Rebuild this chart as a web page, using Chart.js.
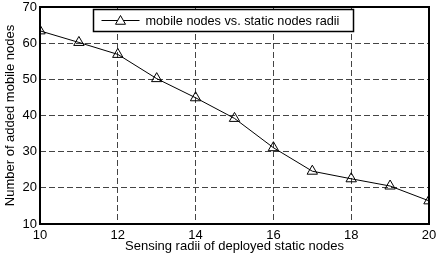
<!DOCTYPE html>
<html>
<head>
<meta charset="utf-8">
<script src="https://cdn.jsdelivr.net/npm/chart.js@4"></script>
<style>
  html, body { margin: 0; padding: 0; background: #fff; }
  #wrap { width: 438px; height: 254px; }
</style>
</head>
<body>
<div id="wrap"><canvas id="myChart" width="438" height="254"></canvas></div>
<script>
// data
const radii = [10, 11, 12, 13, 14, 15, 16, 17, 18, 19, 20];
const mobileNodes = [63.4, 60.2, 56.9, 50.2, 44.9, 39.2, 31.1, 24.6, 22.5, 20.5, 16.4];
const seriesLabel = 'mobile nodes vs. static nodes radii';
const xTicks = [10, 12, 14, 16, 18, 20];
const yTicks = [10, 20, 30, 40, 50, 60, 70];

const FONT = 'Liberation Sans, Arial, sans-serif';

// box around the plot + the legend inside it
const framePlugin = {
    id: 'frame',
    afterDraw(chart) {
        const c = chart.ctx;
        const a = chart.chartArea;
        c.save();
        c.strokeStyle = '#000';
        c.lineWidth = 2;
        c.strokeRect(a.left, a.top, a.right - a.left, a.bottom - a.top);

        // legend box
        const bx = 93.5, by = 9.5, bw = 260, bh = 22;
        c.fillStyle = '#fff';
        c.fillRect(bx, by, bw, bh);
        c.lineWidth = 1.5;
        c.strokeRect(bx, by, bw, bh);
        const ly = by + bh / 2;
        c.lineWidth = 1;
        c.beginPath();
        c.moveTo(bx + 8, ly);
        c.lineTo(bx + 46, ly);
        c.stroke();
        // triangle marker
        const mx = bx + 27, r = 5;
        c.beginPath();
        c.moveTo(mx, ly - r);
        c.lineTo(mx + r, ly + r * 0.75);
        c.lineTo(mx - r, ly + r * 0.75);
        c.closePath();
        c.fill();
        c.stroke();
        c.fillStyle = '#000';
        c.font = '12.7px ' + FONT;
        c.textBaseline = 'middle';
        c.fillText(seriesLabel, bx + 52, ly + 1);
        c.restore();
    }
};

const ctx = document.getElementById('myChart').getContext('2d');
const chart = new Chart(ctx, {
    type: 'line',
    data: {
        datasets: [{
            label: seriesLabel,
            data: radii.map((r, i) => ({ x: r, y: mobileNodes[i] })),
            borderColor: '#000',
            borderWidth: 1,
            backgroundColor: '#fff',
            pointStyle: 'triangle',
            pointRadius: 6,
            pointBorderWidth: 1,
            pointBorderColor: '#000',
            pointBackgroundColor: 'rgba(255,255,255,0)',
            tension: 0
        }]
    },
    options: {
        responsive: false,
        animation: false,
        layout: { padding: { top: 5, right: 9, left: 0, bottom: 0 } },
        plugins: {
            legend: { display: false },
            tooltip: { enabled: false }
        },
        scales: {
            x: {
                type: 'linear',
                min: 10,
                max: 20,
                afterBuildTicks: (s) => { s.ticks = xTicks.map(v => ({ value: v })); },
                afterFit: (s) => { s.height = 30; s.paddingLeft = 0; s.paddingRight = 0; },
                ticks: { color: '#000', font: { family: FONT, size: 13 }, padding: 4, maxRotation: 0 },
                grid: { color: '#444', lineWidth: 1, drawTicks: false },
                border: { display: false, dash: [6, 3] },
                title: {
                    display: true,
                    text: 'Sensing radii of deployed static nodes',
                    color: '#000',
                    font: { family: FONT, size: 13 },
                    padding: { top: -2, bottom: 0 }
                }
            },
            y: {
                min: 10,
                max: 70,
                afterBuildTicks: (s) => { s.ticks = yTicks.map(v => ({ value: v })); },
                afterFit: (s) => { s.width = 40; s.paddingTop = 0; s.paddingBottom = 0; },
                ticks: { color: '#000', font: { family: FONT, size: 13 }, padding: 3 },
                grid: { color: '#444', lineWidth: 1, drawTicks: false },
                border: { display: false, dash: [6, 3] },
                title: {
                    display: true,
                    text: 'Number of added mobile nodes',
                    color: '#000',
                    font: { family: FONT, size: 13 },
                    padding: { top: 3, bottom: 0 }
                }
            }
        }
    },
    plugins: [framePlugin]
});
</script>
</body>
</html>
